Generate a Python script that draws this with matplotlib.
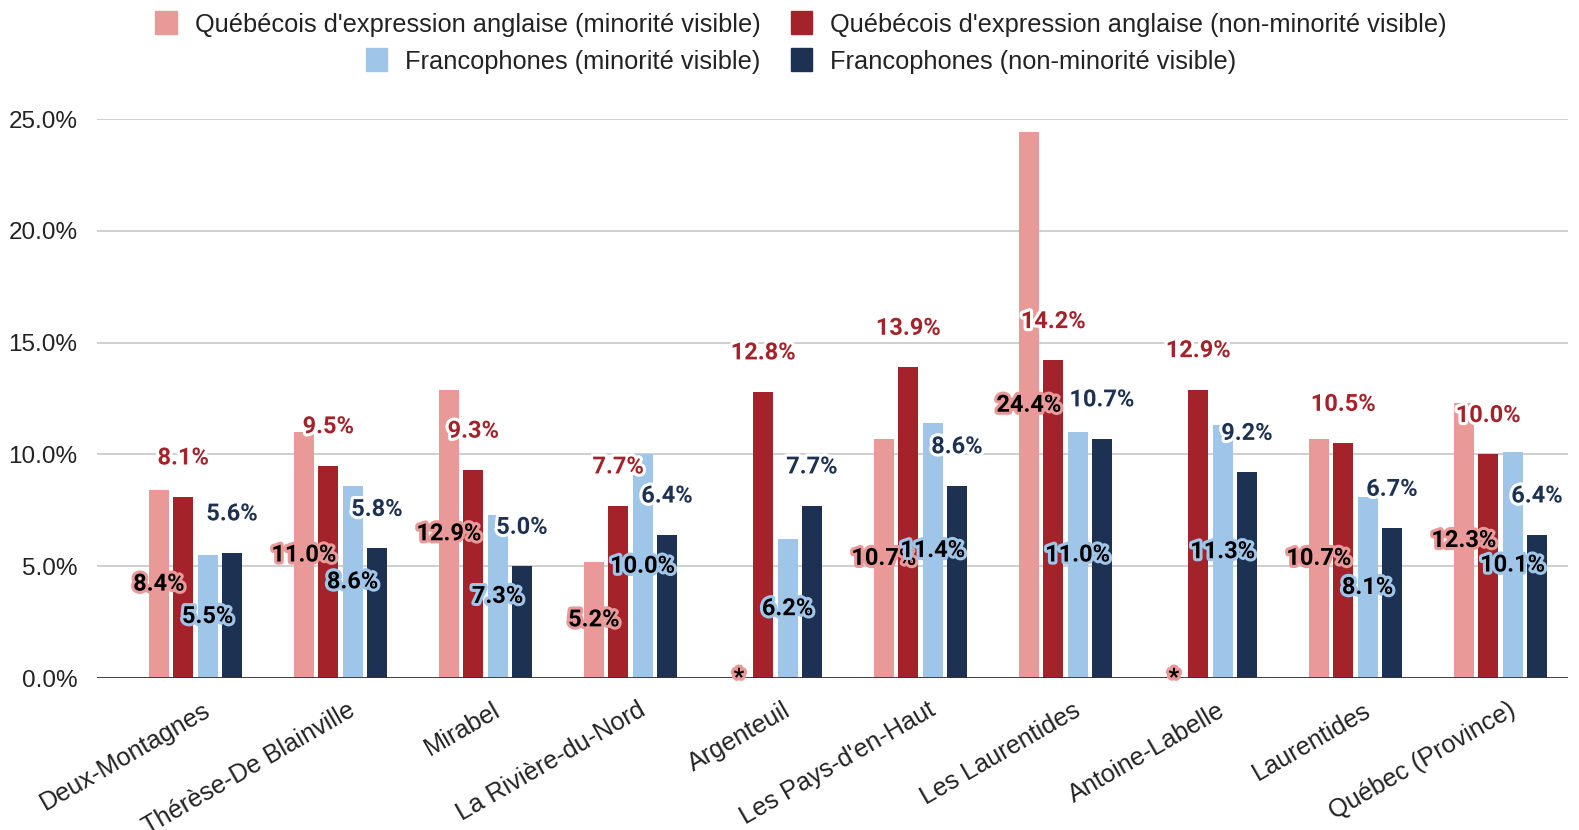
import matplotlib
matplotlib.use("Agg")
import matplotlib.pyplot as plt
import matplotlib.patheffects as pe
from matplotlib.transforms import ScaledTranslation
from matplotlib.patches import Patch
import numpy as np

categories = ["Deux-Montagnes", "Thérèse-De Blainville", "Mirabel", "La Rivière-du-Nord",
              "Argenteuil", "Les Pays-d'en-Haut", "Les Laurentides", "Antoine-Labelle",
              "Laurentides", "Québec (Province)"]
series_names = ["Québécois d'expression anglaise (minorité visible)",
                "Québécois d'expression anglaise (non-minorité visible)",
                "Francophones (minorité visible)",
                "Francophones (non-minorité visible)"]
anglo_vm = [8.4, 11.0, 12.9, 5.2, 0.0, 10.7, 24.4, 0.0, 10.7, 12.3]
anglo_nvm = [8.1, 9.5, 9.3, 7.7, 12.8, 13.9, 14.2, 12.9, 10.5, 10.0]
franco_vm = [5.5, 8.6, 7.3, 10.0, 6.2, 11.4, 11.0, 11.3, 8.1, 10.1]
franco_nvm = [5.6, 5.8, 5.0, 6.4, 7.7, 8.6, 10.7, 9.2, 6.7, 6.4]
yticks = [0, 5, 10, 15, 20, 25]

colors = ["#EA9999", "#A4232B", "#9FC5E8", "#1D3152"]
series = [anglo_vm, anglo_nvm, franco_vm, franco_nvm]

fig = plt.figure(figsize=(15.79, 8.30), dpi=100)
ax = fig.add_axes([97/1579, 152/830, (1568-97)/1579, (678-119)/830])

n = len(categories)
x = np.arange(n)
step = 0.168
width = 0.138
label_font = dict(family=["Roboto", "DejaVu Sans"], fontweight="bold", fontsize=17)

for k, (vals, col) in enumerate(zip(series, colors)):
    xs = x + (k - 1.5) * step
    ax.bar(xs, vals, width=width, color=col, zorder=3)
    for xi, v in zip(xs, vals):
        if k in (1, 3):
            ax.annotate(f"{v:.1f}%", (xi, v), xytext=(0, 28), textcoords="offset points",
                        ha="center", va="center", color=col, zorder=6,
                        path_effects=[pe.withStroke(linewidth=4.5, foreground="white")],
                        **label_font)
        else:
            txt = "*" if v == 0 else f"{v:.1f}%"
            ax.annotate(txt, (xi, v / 2), ha="center", va="center", color="black", zorder=7,
                        path_effects=[pe.withStroke(linewidth=4.5, foreground=col)],
                        **label_font)

ax.set_xlim(-0.679, n - 1 + 0.466)
ax.set_ylim(0, 25)
ax.set_yticks(yticks)
ax.set_yticklabels([f"{t:.1f}%" for t in yticks], fontsize=17.5, family="Liberation Sans",
                   color="#222222")
ax.tick_params(axis="y", length=0, pad=14)
ax.set_xticks([])
ax.grid(axis="y", color="#CCCCCC", linewidth=1.3, zorder=0)
for s in ax.spines.values():
    s.set_visible(False)
ax.axhline(0, color="#333333", linewidth=2, zorder=4)

off = ScaledTranslation(7/100, -20/100, fig.dpi_scale_trans)
for i, cat in enumerate(categories):
    ax.text(i, 0, cat, rotation=30, ha="right", va="top", rotation_mode="anchor",
            transform=ax.transData + off, fontsize=18.2, family="Liberation Sans",
            color="#222222")

leg_kw = dict(loc="center", ncol=2, frameon=False, handlelength=0.85,
              handleheight=1.0, handletextpad=0.7, columnspacing=1.18, borderpad=0,
              prop={"family": "Liberation Sans", "size": 18.3})
h1 = [Patch(color=colors[0]), Patch(color=colors[1])]
h2 = [Patch(color=colors[2]), Patch(color=colors[3])]
l1 = fig.legend(h1, series_names[:2], bbox_to_anchor=(801/1579, 1 - 24/830), **leg_kw)
l2 = fig.legend(h2, series_names[2:], bbox_to_anchor=(801/1579, 1 - 61/830), **leg_kw)
for l in (l1, l2):
    for t in l.get_texts():
        t.set_color("#222222")

fig.savefig("out.png", dpi=100, facecolor="white")
